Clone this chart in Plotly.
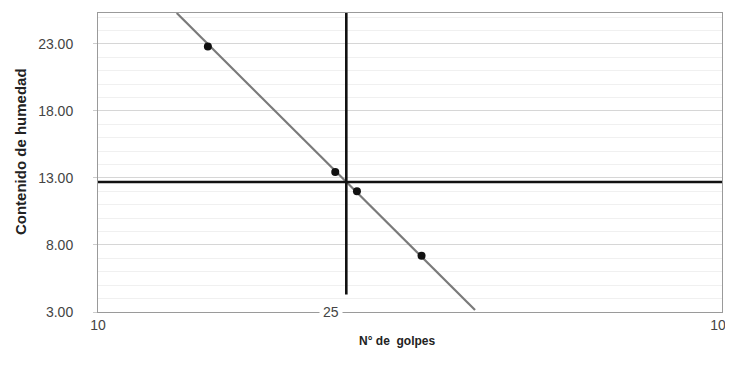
import plotly.graph_objects as go

# ensayo de limite liquido: numero de golpes vs contenido de humedad
golpes = [15, 24, 26, 33]
humedad = [22.8, 13.45, 12.0, 7.2]

# recta de ajuste (extremos)
ajuste_x = [13.37, 40.2]
ajuste_y = [25.3, 3.15]

# lineas de referencia: 25 golpes y limite liquido
ll_x = [10, 100]
ll_y = [12.7, 12.7]
g25_x = [25, 25]
g25_y = [4.3, 25.3]

y_ticks = [3, 8, 13, 18, 23]
y_labels = ['3.00', '8.00', '13.00', '18.00', '23.00']
x_ticks = [10, 100]
x_labels = ['10', '100']

fig = go.Figure()

fig.add_trace(go.Scatter(x=ajuste_x, y=ajuste_y, mode='lines',
                         line=dict(color='#7a7a7a', width=2.2)))
fig.add_trace(go.Scatter(x=ll_x, y=ll_y, mode='lines',
                         line=dict(color='#111111', width=2.6)))
fig.add_trace(go.Scatter(x=g25_x, y=g25_y, mode='lines',
                         line=dict(color='#111111', width=2.6)))
fig.add_trace(go.Scatter(x=golpes, y=humedad, mode='markers',
                         marker=dict(color='#111111', size=8)))

font = dict(family='Liberation Sans, Arial, sans-serif', size=14, color='#444444')
bold = dict(family='Liberation Sans, Arial, sans-serif', size=12, color='#222222')

# la pagina tiene 8px de margen en el body: figura algo menor que la ventana
fig.update_layout(
    width=725, height=363,
    margin=dict(l=90, r=11, t=5, b=59),
    paper_bgcolor='white', plot_bgcolor='white',
    showlegend=False,
    font=font,
    xaxis=dict(type='log', range=[1, 2], tickvals=x_ticks, ticktext=x_labels,
               showgrid=False, zeroline=False, showline=True, linecolor='#9a9a9a',
               linewidth=1, mirror=True, ticks='', ticklabelstandoff=0,
               ticklabeloverflow='allow', automargin=False),
    yaxis=dict(range=[3, 25.3], tickvals=y_ticks, ticktext=y_labels,
               showgrid=True, gridcolor='#d6d6d6', gridwidth=1,
               minor=dict(dtick=1, showgrid=True, gridcolor='#f0f0f0'),
               zeroline=False, showline=True, linecolor='#9a9a9a', linewidth=1,
               mirror=True, ticks='outside', ticklen=4, tickcolor='#cccccc',
               ticklabelstandoff=17, automargin=False),
)

fig.add_annotation(x=1.373, y=3, xref='x', yref='y', text='25', showarrow=False,
                   bgcolor='white', borderpad=3, font=font)
fig.add_annotation(x=0.479, y=-0.127, xref='paper', yref='paper', xanchor='center',
                   text='<b>N° de  golpes</b>', showarrow=False, font=bold)
fig.add_annotation(x=-0.125, y=0.535, xref='paper', yref='paper', xanchor='center',
                   yanchor='middle', text='<b>Contenido de humedad</b>', showarrow=False,
                   textangle=-90,
                   font=dict(family='Liberation Sans, Arial, sans-serif', size=15, color='#222222'))

fig.write_html('out.html')
